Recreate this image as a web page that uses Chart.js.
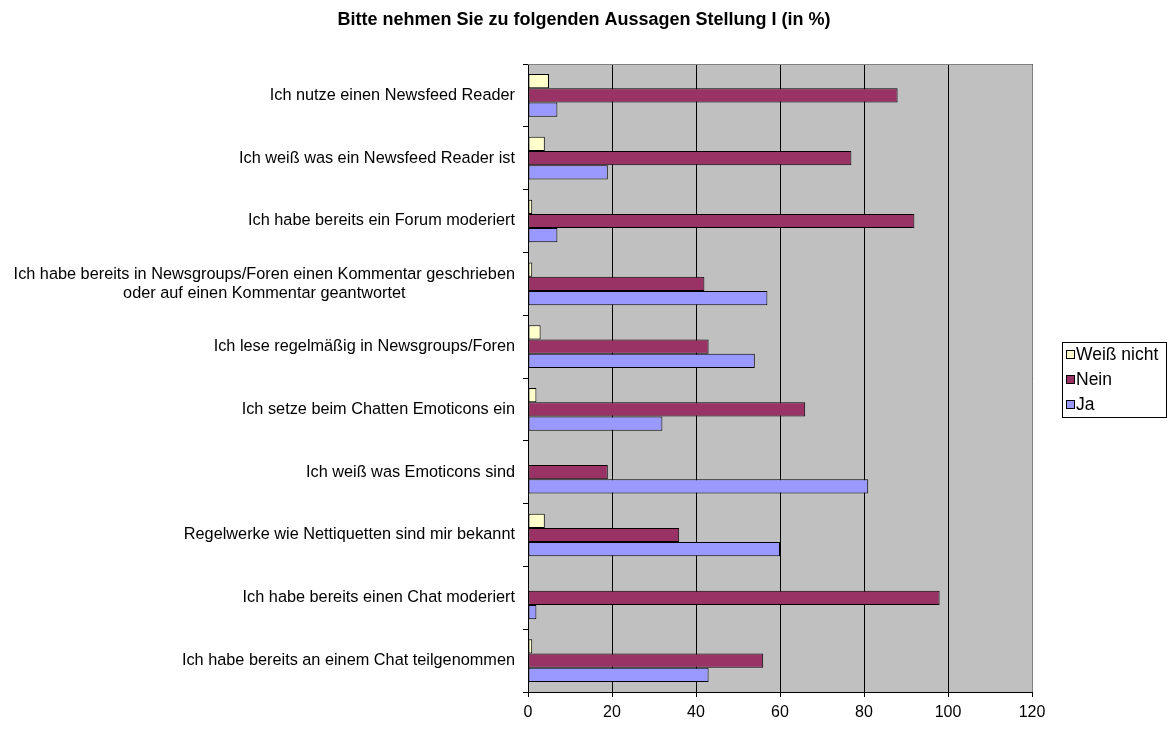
<!DOCTYPE html>
<html>
<head>
<meta charset="utf-8">
<script src="https://cdn.jsdelivr.net/npm/chart.js@4.4.0/dist/chart.umd.min.js"></script>
<style>
html,body{margin:0;padding:0;background:#fff;}
#wrap{width:1168px;height:731px;position:relative;}
</style>
</head>
<body>
<div id="wrap"><canvas id="c" width="1168" height="731"></canvas></div>
<script>
const titleText = "Bitte nehmen Sie zu folgenden Aussagen Stellung I (in %)";
const categories = [
  ["Ich nutze einen Newsfeed Reader"],
  ["Ich weiß was ein Newsfeed Reader ist"],
  ["Ich habe bereits ein Forum moderiert"],
  ["Ich habe bereits in Newsgroups/Foren einen Kommentar geschrieben", "oder auf einen Kommentar geantwortet"],
  ["Ich lese regelmäßig in Newsgroups/Foren"],
  ["Ich setze beim Chatten Emoticons ein"],
  ["Ich weiß was Emoticons sind"],
  ["Regelwerke wie Nettiquetten sind mir bekannt"],
  ["Ich habe bereits einen Chat moderiert"],
  ["Ich habe bereits an einem Chat teilgenommen"]
];
const seriesNames = ["Weiß nicht", "Nein", "Ja"];
const weissNicht = [5, 4, 1, 1, 3, 2, 0, 4, 0, 1];
const nein = [88, 77, 92, 42, 43, 66, 19, 36, 98, 56];
const ja = [7, 19, 7, 57, 54, 32, 81, 60, 2, 43];
const xTicks = [0, 20, 40, 60, 80, 100, 120];

const colors = ["#FFFFCC", "#993366", "#9999FF"];
const FONT = "'Liberation Sans', Arial, sans-serif";

const PLOT_LEFT = 528, PLOT_RIGHT = 1032, PLOT_TOP = 64, PLOT_BOTTOM = 692;

const bgPlugin = {
  id: 'bg',
  beforeDraw(chart) {
    const {ctx, chartArea: a} = chart;
    ctx.save();
    ctx.fillStyle = '#C0C0C0';
    ctx.fillRect(a.left, a.top, a.right - a.left, a.bottom - a.top);
    ctx.restore();
  },
  afterDatasetsDraw(chart) {
    const {ctx, chartArea: a} = chart;
    ctx.save();
    ctx.strokeStyle = '#808080';
    ctx.lineWidth = 1;
    ctx.beginPath();
    ctx.moveTo(a.left, a.top + 0.5);
    ctx.lineTo(a.right + 0.5, a.top + 0.5);
    ctx.lineTo(a.right + 0.5, a.bottom);
    ctx.stroke();
    ctx.restore();
  },
  afterDraw(chart) {
    const ctx = chart.ctx;
    ctx.save();
    // title
    ctx.fillStyle = '#000';
    ctx.font = "bold 18px " + FONT;
    ctx.textAlign = 'center';
    ctx.textBaseline = 'middle';
    ctx.fillText(titleText, 584, 20);
    // y labels
    const ys = chart.scales.y;
    ctx.font = "16.3px " + FONT;
    ctx.textBaseline = 'middle';
    categories.forEach((lines, i) => {
      const yc = ys.getPixelForValue(i);
      const lh = 19;
      const widths = lines.map(l => ctx.measureText(l).width);
      const maxW = Math.max(...widths);
      const cx = 515 - maxW / 2;
      lines.forEach((l, j) => {
        const y = yc + (j - (lines.length - 1) / 2) * lh;
        ctx.textAlign = 'center';
        ctx.fillText(l, cx, y);
      });
    });
    // legend
    const lx = 1062, ly = 342, lw = 104, lh2 = 75;
    ctx.fillStyle = '#fff';
    ctx.fillRect(lx, ly, lw, lh2);
    ctx.strokeStyle = '#000';
    ctx.lineWidth = 1;
    ctx.strokeRect(lx + 0.5, ly + 0.5, lw, lh2);
    ctx.font = "17.5px " + FONT;
    ctx.textAlign = 'left';
    chart.data.datasets.forEach((ds, i) => {
      const y = ly + 13 + i * 25;
      ctx.fillStyle = ds.backgroundColor;
      ctx.fillRect(lx + 4.5, y - 4.5, 8, 8);
      ctx.strokeStyle = '#000';
      ctx.strokeRect(lx + 4.5, y - 4.5, 8, 8);
      ctx.fillStyle = '#000';
      ctx.fillText(ds.label, lx + 14, y);
    });
    ctx.restore();
  }
};

new Chart(document.getElementById('c'), {
  type: 'bar',
  data: {
    labels: categories.map(c => c.join(' ')),
    datasets: [
      {label: seriesNames[0], data: weissNicht, backgroundColor: colors[0]},
      {label: seriesNames[1], data: nein, backgroundColor: colors[1]},
      {label: seriesNames[2], data: ja, backgroundColor: colors[2]}
    ].map(d => Object.assign(d, {borderColor: '#000', borderWidth: 1, borderSkipped: false}))
  },
  options: {
    indexAxis: 'y',
    responsive: false,
    animation: false,
    devicePixelRatio: 1,
    layout: {padding: {top: PLOT_TOP, right: 1168 - PLOT_RIGHT, bottom: 0, left: 0}},
    plugins: {legend: {display: false}, title: {display: false}, tooltip: {enabled: false}},
    datasets: {bar: {categoryPercentage: 0.68, barPercentage: 1}},
    scales: {
      x: {
        min: 0, max: 120,
        afterBuildTicks(s) { s.ticks = xTicks.map(v => ({value: v})); },
        afterFit(s) { s.height = 731 - PLOT_BOTTOM; },
        grid: {color: '#000', lineWidth: 1, drawTicks: true, tickLength: 5, tickColor: '#000'},
        border: {display: true, color: '#000', width: 1},
        ticks: {color: '#000', font: {family: FONT, size: 16}, padding: 6, maxRotation: 0}
      },
      y: {
        afterFit(s) { s.width = PLOT_LEFT; },
        grid: {drawOnChartArea: false, drawTicks: true, tickLength: 5, color: '#000', offset: true},
        border: {display: true, color: '#000', width: 1},
        ticks: {display: false}
      }
    }
  },
  plugins: [bgPlugin]
});
</script>
</body>
</html>
